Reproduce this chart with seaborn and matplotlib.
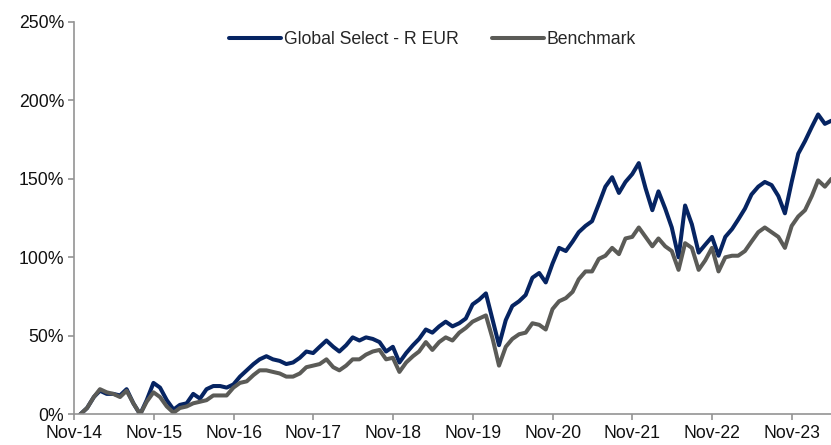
import numpy as np
import pandas as pd
import matplotlib
matplotlib.use("Agg")
import matplotlib.pyplot as plt
import matplotlib.dates as mdates
from matplotlib.ticker import FuncFormatter
import seaborn as sns

# monthly cumulative performance (%), Nov-14 .. Apr-24
dates = pd.date_range("2014-11-30", "2024-04-30", freq="ME")

fund = [0, 4, 11, 15, 13, 13, 12, 16, 7, 0,
        9, 20, 17, 9, 3, 6, 7, 13, 10, 16,
        18, 18, 17, 19, 24, 28, 32, 35, 37, 35,
        34, 32, 33, 36, 40, 39, 43, 47, 43, 40,
        44, 49, 47, 49, 48, 46, 40, 43, 33, 39,
        44, 48, 54, 52, 56, 59, 56, 58, 61, 70,
        73, 77, 60, 44, 60, 69, 72, 76, 87, 90,
        84, 96, 106, 104, 110, 116, 120, 123, 134, 145,
        151, 141, 148, 153, 160, 144, 130, 142, 131, 119,
        100, 133, 121, 103, 108, 113, 101, 113, 118, 124,
        131, 140, 145, 148, 146, 139, 128, 148, 166, 174,
        183, 191, 185, 187]

benchmark = [0, 4, 11, 16, 14, 13, 11, 15, 7, 0,
             8, 14, 11, 5, 1, 4, 5, 7, 8, 9,
             12, 12, 12, 17, 20, 21, 25, 28, 28, 27,
             26, 24, 24, 26, 30, 31, 32, 35, 30, 28,
             31, 35, 35, 38, 40, 41, 35, 36, 27, 33,
             37, 40, 46, 41, 46, 49, 47, 52, 55, 59,
             61, 63, 48, 31, 43, 48, 51, 52, 58, 57,
             54, 67, 72, 74, 78, 86, 91, 91, 99, 101,
             106, 102, 112, 113, 119, 113, 107, 112, 107, 104,
             92, 109, 106, 92, 98, 106, 91, 100, 101, 101,
             104, 110, 116, 119, 116, 113, 106, 120, 126, 130,
             139, 149, 145, 150]

series_names = ["Global Select - R EUR", "Benchmark"]
colors = ["#062462", "#5b5b57"]

df = pd.DataFrame({"date": list(dates) * 2,
                   "value": fund + benchmark,
                   "series": [series_names[0]] * len(fund) + [series_names[1]] * len(benchmark)})

sns.set_theme(style="white")
plt.rcParams["font.family"] = ["Liberation Sans", "DejaVu Sans"]

fig = plt.figure(figsize=(8.31, 4.45), dpi=100)
ax = fig.add_axes([0.089, 0.069, 0.911, 0.882])

sns.lineplot(data=df, x="date", y="value", hue="series", palette=colors,
             linewidth=2.9, ax=ax, legend=True,
             solid_joinstyle="round", solid_capstyle="round")

ax.set_ylim(0, 250)
ax.set_yticks([0, 50, 100, 150, 200, 250])
ax.yaxis.set_major_formatter(FuncFormatter(lambda v, p: f"{v:.0f}%"))
ax.set_xlim(pd.Timestamp("2014-11-01"), pd.Timestamp("2024-04-28"))
ax.xaxis.set_major_locator(mdates.MonthLocator(bymonth=11, bymonthday=1))
ax.xaxis.set_major_formatter(mdates.DateFormatter("%b-%y"))
ax.set_xlabel("")
ax.set_ylabel("")

for s in ["top", "right"]:
    ax.spines[s].set_visible(False)
for s in ["left", "bottom"]:
    ax.spines[s].set_color("#939393")
    ax.spines[s].set_linewidth(1.2)
ax.tick_params(axis="both", which="major", length=4, width=1.2, color="#939393",
               labelsize=12.7, labelcolor="#111111", left=True, bottom=True)
ax.tick_params(axis="y", pad=3)
ax.tick_params(axis="x", pad=4)

handles, labels = ax.get_legend_handles_labels()
for h in handles:
    h.set_solid_capstyle("round")
ax.legend(handles, labels, loc="center", bbox_to_anchor=(0.474, 0.955), ncol=2,
          frameon=False, fontsize=12.7, handlelength=2.95, handletextpad=0.15,
          columnspacing=1.9)

fig.savefig("out.png", dpi=100)
